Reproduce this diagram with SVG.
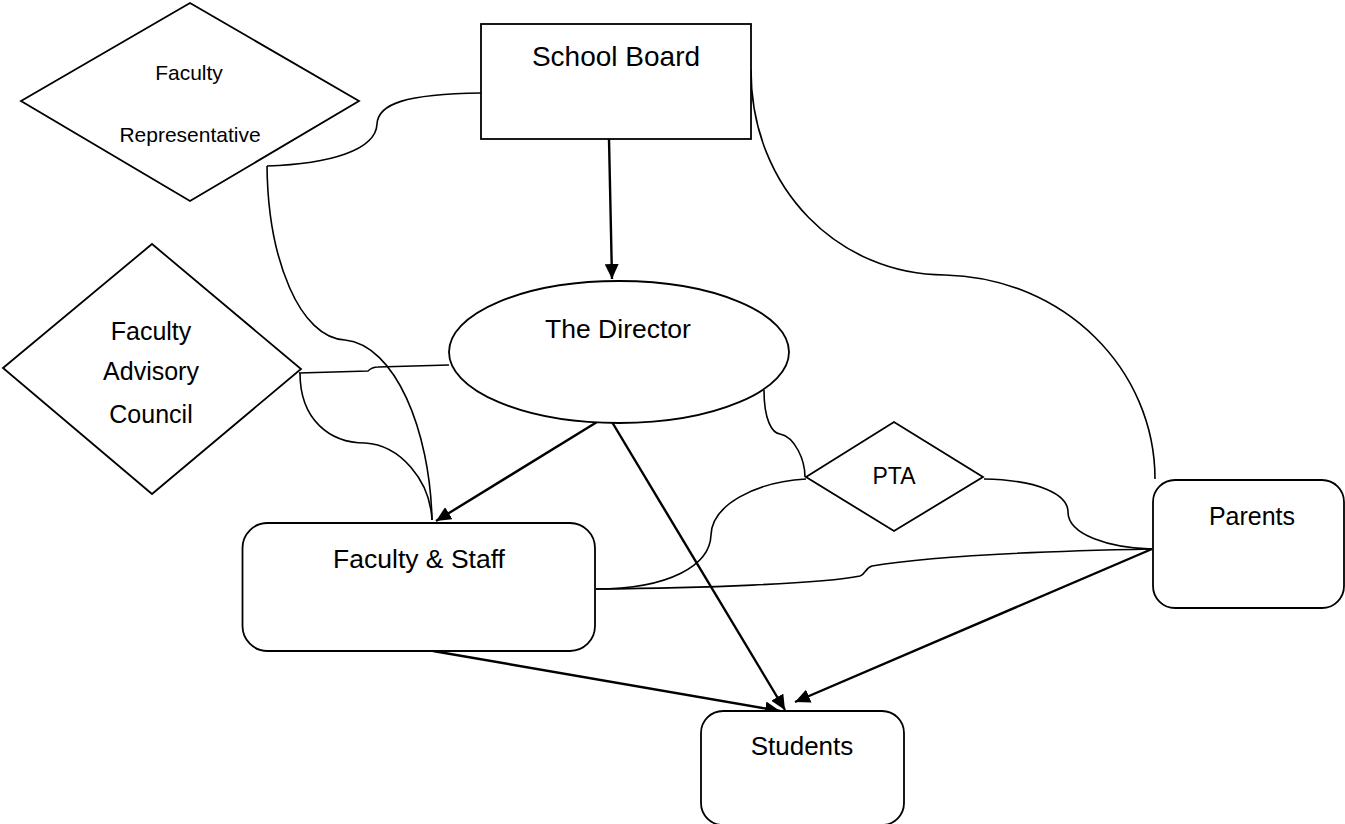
<svg xmlns="http://www.w3.org/2000/svg" width="1345" height="824" viewBox="0 0 1345 824">
<style>
.shape{fill:#fff;stroke:#000;stroke-width:1.8}
.conn{fill:none;stroke:#000;stroke-width:1.6}
.arr{fill:none;stroke:#000;stroke-width:2.4}
text{font-family:"Liberation Sans",Arial,sans-serif;fill:#000;text-anchor:middle}
</style>
<defs>
<marker id="ah" markerUnits="userSpaceOnUse" markerWidth="16" markerHeight="14" refX="15" refY="7" orient="auto">
<path d="M0,0 L15,7 L0,14 z" fill="#000"/>
</marker>
</defs>
<rect width="1345" height="824" fill="#fff"/>
<g id="connectors">
<path class="conn" d="M481 93 C405 94 378 104 377 124 C376 150 330 164 267 166"/>
<path class="conn" d="M267 166 C268 260 300 338 345 340 C395 345 430 430 432 520"/>
<path class="conn" d="M299 373 L368 371 Q372 367 378 367 L449 365"/>
<path class="conn" d="M300 373 C300 420 330 443 365 443 C400 445 430 480 432 520"/>
<path class="conn" d="M751 70 C751 190 840 275 945 275 C1065 278 1155 370 1155 479"/>
<path class="conn" d="M764 390 C764 420 772 433 780 434 C795 437 805 460 805 477"/>
<path class="conn" d="M806 479 C755 482 712 505 711 535 C710 565 670 589 596 589"/>
<path class="conn" d="M596 589 C700 588 820 584 860 576 C866 574 865 568 872 566 C930 556 1050 551 1152 549"/>
<path class="conn" d="M984 479 C1040 480 1068 495 1068 512 C1068 535 1110 548 1152 549"/>
<line class="arr" x1="609" y1="139" x2="612" y2="279" marker-end="url(#ah)"/>
<line class="arr" x1="597" y1="422" x2="436" y2="521" marker-end="url(#ah)"/>
<line class="arr" x1="612" y1="422" x2="785" y2="710" marker-end="url(#ah)"/>
<line class="arr" x1="433" y1="651" x2="780" y2="711" marker-end="url(#ah)"/>
<line class="arr" x1="1152" y1="549" x2="795" y2="702" marker-end="url(#ah)"/>
</g>
<g id="faculty-representative">
<polygon class="shape" points="21,101 190,3 359,101 190,201"/>
<text x="189" y="80" font-size="21">Faculty</text>
<text x="190" y="142" font-size="21">Representative</text>
</g>
<g id="school-board">
<rect class="shape" x="481" y="24" width="270" height="115"/>
<text x="616" y="66" font-size="28">School Board</text>
</g>
<g id="faculty-advisory-council">
<polygon class="shape" points="3,368 152,244 301,369 152,494"/>
<text x="151" y="340" font-size="25">Faculty</text>
<text x="151" y="380" font-size="25">Advisory</text>
<text x="151" y="423" font-size="25">Council</text>
</g>
<g id="the-director">
<ellipse class="shape" cx="619" cy="352" rx="170" ry="71"/>
<text x="618" y="338" font-size="26.5">The Director</text>
</g>
<g id="pta">
<polygon class="shape" points="806,477 894,422 983,477 894,531"/>
<text x="894" y="484" font-size="23">PTA</text>
</g>
<g id="parents">
<rect class="shape" x="1153" y="480" width="191" height="128" rx="22"/>
<text x="1252" y="525" font-size="25">Parents</text>
</g>
<g id="faculty-staff">
<rect class="shape" x="242.5" y="523" width="352.5" height="128" rx="25"/>
<text x="419" y="568" font-size="26.5">Faculty &amp; Staff</text>
</g>
<g id="students">
<rect class="shape" x="701" y="711" width="203" height="114" rx="22"/>
<text x="802" y="755" font-size="26">Students</text>
</g>
</svg>
